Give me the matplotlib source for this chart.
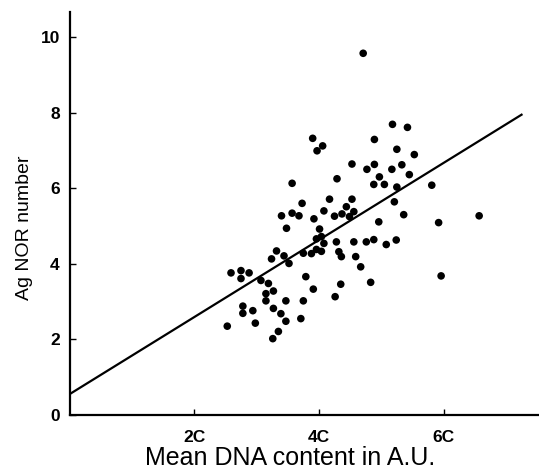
import numpy as np
import matplotlib.pyplot as plt

plt.rcParams['font.family'] = ['Liberation Sans', 'DejaVu Sans']

# Mean DNA content (units of C) and Ag NOR number
dna = [4.71, 5.18, 5.42, 4.89, 3.90, 4.06, 3.97, 5.25, 5.53, 4.53, 4.89, 4.77,
       5.17, 5.33, 5.45, 4.97, 4.29, 3.57, 4.88, 5.05, 5.25, 5.81,
       4.17, 4.53, 3.73, 4.44, 4.08, 4.56, 3.40, 3.57, 3.68, 3.92, 4.25, 4.37,
       4.49, 5.21, 5.36, 4.96, 3.48, 4.01, 3.96, 4.04, 4.08, 4.28, 4.56, 4.76,
       4.88, 5.08, 5.24, 5.92, 6.57, 3.32,
       3.96, 4.04, 3.75, 3.88, 3.24, 3.44, 3.52, 4.32, 4.36, 4.59, 4.67, 2.59,
       2.75, 2.88, 2.75, 3.07, 3.19, 3.79, 3.27, 3.15, 3.91, 3.15, 3.47, 3.75,
       4.35, 4.83, 4.26, 5.96, 2.78, 2.94, 2.78, 3.27, 3.39, 2.53, 2.98, 3.47,
       3.71, 3.35, 3.26]
nor = [9.57, 7.69, 7.61, 7.29, 7.32, 7.12, 6.99, 7.03, 6.89, 6.64, 6.63, 6.50,
       6.50, 6.62, 6.36, 6.30, 6.25, 6.13, 6.10, 6.10, 6.03, 6.08,
       5.71, 5.71, 5.60, 5.51, 5.40, 5.38, 5.27, 5.34, 5.27, 5.19, 5.26, 5.32,
       5.25, 5.64, 5.30, 5.11, 4.94, 4.92, 4.66, 4.72, 4.54, 4.58, 4.58, 4.58,
       4.64, 4.51, 4.63, 5.09, 5.27, 4.34,
       4.38, 4.33, 4.28, 4.27, 4.13, 4.21, 4.01, 4.32, 4.19, 4.19, 3.92, 3.76,
       3.82, 3.76, 3.61, 3.56, 3.48, 3.66, 3.28, 3.21, 3.33, 3.02, 3.02, 3.02,
       3.46, 3.51, 3.13, 3.68, 2.88, 2.76, 2.69, 2.82, 2.68, 2.35, 2.43, 2.48,
       2.55, 2.21, 2.02]

# regression line
intercept = 0.55
slope = 1.02
line_x = [0.0, 7.25]

fig = plt.figure(figsize=(5.39, 4.74), dpi=100)
ax = fig.add_axes([0.129, 0.1245, 0.871, 0.85])

ax.scatter(dna, nor, s=30, color='black', edgecolors='none', zorder=3)
ax.plot(line_x, [intercept + slope * v for v in line_x], color='black', lw=1.6)

ax.set_xlim(0, 7.53)
ax.set_ylim(0, 10.66)
ax.set_xticks([2, 4, 6])
ax.set_xticklabels(['2C', '4C', '6C'], fontsize=12.5, fontweight='bold')
ax.set_yticks([0, 2, 4, 6, 8, 10])
ax.set_yticklabels(['0', '2', '4', '6', '8', '10'], fontsize=12.5, fontweight='bold')
ax.tick_params(axis='x', direction='in', length=4, width=1, pad=11)
ax.tick_params(axis='y', direction='in', length=4, width=1, pad=7)

for s in ['top', 'right']:
    ax.spines[s].set_visible(False)
for s in ['left', 'bottom']:
    ax.spines[s].set_linewidth(1.6)

ax.set_xlabel('Mean DNA content in A.U.', fontsize=18)
ax.xaxis.set_label_coords(0.47, -0.076)
ax.set_ylabel('Ag NOR number', fontsize=14)
ax.yaxis.set_label_coords(-0.078, 0.464)

fig.savefig('out.png', dpi=100)
